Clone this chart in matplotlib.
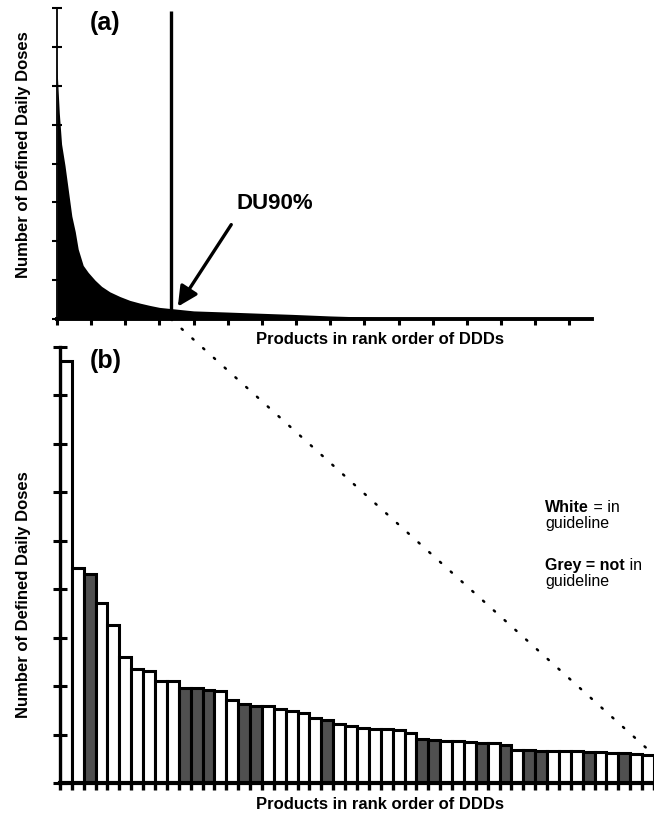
import matplotlib
matplotlib.use('Agg')
import matplotlib.pyplot as plt
from matplotlib.patches import ConnectionPatch

plt.rcParams['font.family'] = ['Liberation Sans', 'DejaVu Sans']

# (a) all products, DDDs in rank order
rank_a = [0, 0.2, 1, 2, 3.5, 5, 6.5, 8, 9.3, 11.5, 13.7, 16.7, 19.6, 23.2, 27.6,
          32, 36.4, 40.8, 45, 50, 60, 75, 89, 103.5, 120, 137, 150]
ddd_a = [6.6, 6.2, 5.3, 4.5, 3.95, 3.3, 2.65, 2.25, 1.8, 1.38, 1.2, 1.0, 0.84, 0.7, 0.58,
         0.48, 0.41, 0.35, 0.3, 0.27, 0.21, 0.18, 0.15, 0.12, 0.08, 0.05, 0.02]
du90_rank = 50

# (b) the DU90% products
ddd_b = [8.70, 4.44, 4.32, 3.72, 3.26, 2.60, 2.36, 2.31, 2.11, 2.11,
         1.96, 1.96, 1.92, 1.90, 1.71, 1.63, 1.59, 1.59, 1.53, 1.49,
         1.45, 1.34, 1.30, 1.22, 1.18, 1.14, 1.12, 1.12, 1.10, 1.03,
         0.91, 0.89, 0.87, 0.87, 0.85, 0.83, 0.83, 0.79, 0.68, 0.68,
         0.66, 0.66, 0.66, 0.66, 0.64, 0.64, 0.62, 0.62, 0.60, 0.58]
not_in_guideline = [3, 11, 12, 13, 16, 17, 23, 31, 32, 36, 38, 40, 41, 45, 48]  # 1-based

fig = plt.figure(figsize=(6.54, 8.16), dpi=100)
ax_a = fig.add_axes([0.0872, 0.609, 0.818, 0.381])
ax_b = fig.add_axes([0.0917, 0.0404, 0.9083, 0.5344])

# ---- panel (a)
ax_a.fill_between(rank_a, ddd_a, 0, color='black', lw=0)
ax_a.vlines(du90_rank, 0, 7.92, color='black', lw=2.4)
ax_a.set_xlim(0, 235)
ax_a.set_ylim(0, 8)
ax_a.set_xticks(range(0, 226, 15))
ax_a.set_yticks(range(0, 9))
ax_a.set_xticklabels([])
ax_a.set_yticklabels([])
ax_a.tick_params(axis='y', direction='inout', length=7, width=1.5)
ax_a.tick_params(axis='x', direction='out', length=4.5, width=2.2)
ax_a.spines['left'].set_linewidth(1.3)
ax_a.spines['bottom'].set_linewidth(2.8)
ax_a.annotate('', xy=(du90_rank + 2.4, 0.26), xytext=(77.2, 2.49),
              arrowprops=dict(arrowstyle='-|>', lw=2.4, mutation_scale=30, color='black'))
ax_a.text(79, 2.97, 'DU90%', fontsize=16, fontweight='bold', ha='left', va='center')
ax_a.text(0.061, 0.951, '(a)', transform=ax_a.transAxes, fontsize=18, fontweight='bold',
          ha='left', va='center')

# ---- panel (b)
colors = ['#505050' if (i + 1) in not_in_guideline else 'white' for i in range(len(ddd_b))]
ax_b.bar(range(len(ddd_b)), ddd_b, width=1, align='edge', color=colors,
         edgecolor='black', lw=2.2)
ax_b.set_xlim(0, len(ddd_b))
ax_b.set_ylim(0, 9)
ax_b.set_xticks(range(0, len(ddd_b) + 1))
ax_b.set_yticks(range(0, 10))
ax_b.set_xticklabels([])
ax_b.set_yticklabels([])
ax_b.tick_params(axis='y', direction='inout', length=10, width=2.2)
ax_b.tick_params(axis='x', direction='out', length=5, width=2.4)
ax_b.spines['left'].set_linewidth(2.4)
ax_b.spines['bottom'].set_linewidth(3)
ax_b.text(0.05, 0.967, '(b)', transform=ax_b.transAxes, fontsize=18, fontweight='bold',
          ha='left', va='center')

# legend text: bold part, then regular part placed right after it
fs = 11.5
t1 = ax_b.text(0.8165, 0.650, 'White', transform=ax_b.transAxes, fontsize=fs,
               fontweight='bold', va='top', ha='left')
ax_b.annotate(' = in', xy=(1, 0), xycoords=t1, fontsize=fs, va='bottom', ha='left')
ax_b.text(0.8165, 0.612, 'guideline', transform=ax_b.transAxes, fontsize=fs, va='top', ha='left')
t2 = ax_b.text(0.8165, 0.517, 'Grey = not', transform=ax_b.transAxes, fontsize=fs,
               fontweight='bold', va='top', ha='left')
ax_b.annotate(' in', xy=(1, 0), xycoords=t2, fontsize=fs, va='bottom', ha='left')
ax_b.text(0.8165, 0.479, 'guideline', transform=ax_b.transAxes, fontsize=fs, va='top', ha='left')

for ax in (ax_a, ax_b):
    ax.spines['top'].set_visible(False)
    ax.spines['right'].set_visible(False)
    ax.patch.set_alpha(0)
    ax.set_xlabel('Products in rank order of DDDs', fontsize=12, fontweight='bold')
    ax.set_ylabel('Number of Defined Daily Doses', fontsize=12, fontweight='bold')

ax_a.xaxis.set_label_coords(0.604, -0.042)
ax_a.yaxis.set_label_coords(-0.049, 0.53)
ax_b.xaxis.set_label_coords(0.539, -0.032)
ax_b.yaxis.set_label_coords(-0.049, 0.433)

# dotted link from DU90% point to the last bar of (b)
con = ConnectionPatch(xyA=(du90_rank, 0), coordsA=ax_a.transData,
                      xyB=(len(ddd_b), ddd_b[-1]), coordsB=ax_b.transData,
                      color='black', lw=1.8, linestyle=(0, (0.6, 5.2)))
fig.add_artist(con)

fig.savefig('out.png', dpi=100)
